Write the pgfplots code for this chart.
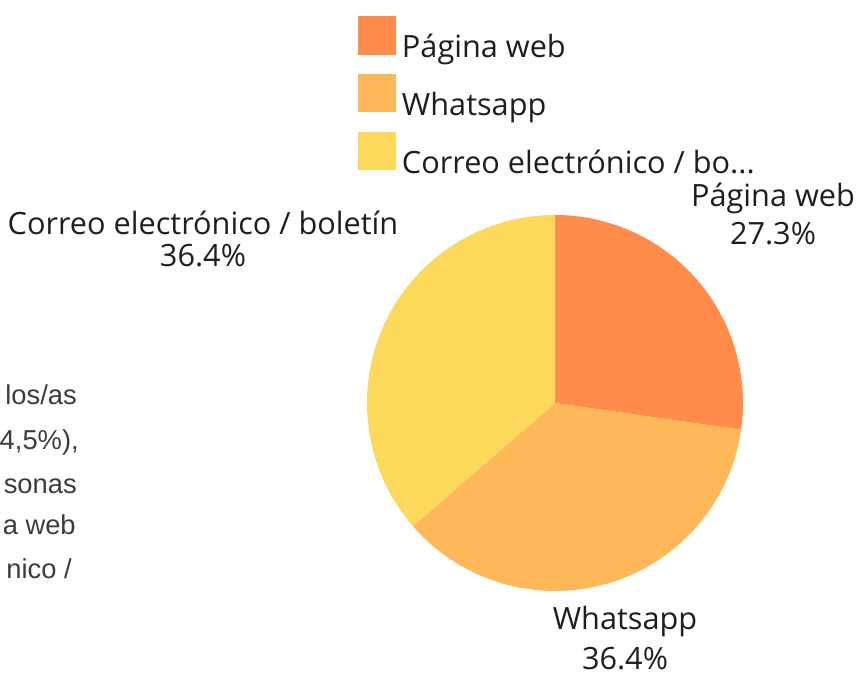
\documentclass[border=0pt]{standalone}
\usepackage{pgfplots}
\pgfplotsset{compat=1.18}
\usepackage{pgfplotstable}
\usepackage{fontspec}
\setmainfont{Open Sans}
\newfontfamily\fragfont{Liberation Sans}
\definecolor{cweb}{HTML}{FF8C4B}
\definecolor{cwha}{HTML}{FEB85A}
\definecolor{ccor}{HTML}{FCD95A}
\definecolor{txt}{HTML}{1E1E1E}
\definecolor{frag}{HTML}{3C3C3C}

\pgfplotstableread{
label value
web 27.3
wha 36.4
cor 36.4
}\piedata

\begin{document}
\begin{tikzpicture}
\path[use as bounding box, clip] (0,0) rectangle (645.75pt,508.5pt);
\pgfplotstablegetelem{0}{value}\of\piedata \pgfmathsetmacro\va{\pgfplotsretval}
\pgfplotstablegetelem{1}{value}\of\piedata \pgfmathsetmacro\vb{\pgfplotsretval}
\pgfplotstablegetelem{2}{value}\of\piedata \pgfmathsetmacro\vc{\pgfplotsretval}
\pgfmathsetmacro\vt{\va+\vb+\vc}
\pgfmathsetmacro\aA{90}
\pgfmathsetmacro\aB{\aA-360*\va/\vt}
\pgfmathsetmacro\aC{\aB-360*\vb/\vt}
\pgfmathsetmacro\aD{\aC-360*\vc/\vt}
\begin{axis}[
  at={(0,0)}, anchor=south west,
  scale only axis, width=645.75pt, height=508.5pt,
  xmin=0, xmax=861, ymin=0, ymax=678,
  hide axis, clip=false,
  legend style={at={(358/861,1-16/678)}, anchor=north west, draw=none, fill=none,
    inner sep=0pt, outer sep=0pt, row sep=10.6pt,
    nodes={inner sep=0pt, text=txt},
    font=\fontsize{23pt}{27pt}\selectfont,
    /tikz/every odd column/.style={column sep=4.5pt}},
  legend cell align=left,
  legend image code/.code={\fill[#1] (0pt,-5.7pt) rectangle (28.5pt,23.25pt);},
]
\addlegendimage{fill=cweb, draw=none}
\addlegendentry{Página web}
\addlegendimage{fill=cwha, draw=none}
\addlegendentry{Whatsapp}
\addlegendimage{fill=ccor, draw=none}
\addlegendentry{Correo electrónico / bo...}

\fill[cweb] (axis cs:555,275) -- ++(\aA:141pt) arc[start angle=\aA, end angle=\aB, radius=141pt] -- cycle;
\fill[cwha] (axis cs:555,275) -- ++(\aB:141pt) arc[start angle=\aB, end angle=\aC, radius=141pt] -- cycle;
\fill[ccor] (axis cs:555,275) -- ++(\aC:141pt) arc[start angle=\aC, end angle=\aD, radius=141pt] -- cycle;

\begin{scope}[every node/.style={anchor=base, text=txt, inner sep=0pt, font=\fontsize{23pt}{27pt}\selectfont}]
\node at (axis cs:203,443) {Correo electrónico / boletín};
\node at (axis cs:203,411) {36.4\%};
\node at (axis cs:773,471) {Página web};
\node at (axis cs:773,433) {27.3\%};
\node at (axis cs:625,48) {Whatsapp};
\node at (axis cs:625,8) {36.4\%};
\end{scope}

\begin{scope}[every node/.style={anchor=base east, text=frag, inner sep=0pt, font=\fragfont\fontsize{20.5pt}{24pt}\selectfont}]
\node at (axis cs:77,273) {los/as};
\node at (axis cs:79,228) {4,5\%),};
\node at (axis cs:77,184) {sonas};
\node at (axis cs:76,143) {a web};
\node at (axis cs:72,99) {nico /};
\end{scope}
\end{axis}
\end{tikzpicture}
\end{document}
